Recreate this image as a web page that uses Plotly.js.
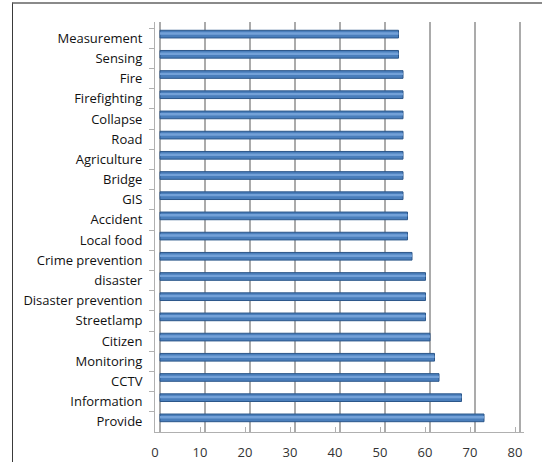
<!DOCTYPE html>
<html>
<head>
<meta charset="utf-8">
<script src="https://cdn.plot.ly/plotly-3.0.1.min.js"></script>
<style>
  html, body { margin: 0; padding: 0; background: #fff; }
  #wrap { position: relative; width: 542px; height: 462px; overflow: hidden; }
  #chart { position: absolute; left: 0; top: 0; width: 542px; height: 462px; }
  #frame { position: absolute; left: 12px; top: 2px; width: 600px; height: 520px;
           border-left: 1px solid #3a3a3a; border-top: 2px solid #8a8a8a;
           pointer-events: none; }
</style>
</head>
<body>
<div id="wrap">
  <div id="chart"></div>
  <div id="frame"></div>
</div>
<script>
// Keywords, listed from top to bottom of the chart
const categories = [
  "Measurement", "Sensing", "Fire", "Firefighting", "Collapse", "Road",
  "Agriculture", "Bridge", "GIS", "Accident", "Local food", "Crime prevention",
  "disaster", "Disaster prevention", "Streetlamp", "Citizen", "Monitoring",
  "CCTV", "Information", "Provide"
];
const counts = [
  53, 53, 54, 54, 54, 54,
  54, 54, 54, 55, 55, 56,
  59, 59, 59, 60, 61,
  62, 67, 72
];
const xTicks = [0, 10, 20, 30, 40, 50, 60, 70, 80];

const barW = 0.38;
const lift = 0.2;   // bars sit slightly above their labels (3D depth)

const body = {
  type: "bar", orientation: "h",
  y: categories, x: counts,
  width: barW, offset: -barW / 2 - lift,
  marker: { color: "#4a7ebb", line: { color: "#2c578a", width: 1 } },
  hoverinfo: "x+y", showlegend: false
};
// light band along each bar for the cylinder sheen
const sheen = {
  type: "bar", orientation: "h",
  y: categories, x: counts,
  width: 0.12, offset: -barW / 2 - lift + 0.1,
  marker: { color: "rgba(120,165,220,0.9)", line: { width: 0 } },
  hoverinfo: "skip", showlegend: false
};

const layout = {
  width: 542, height: 462,
  margin: { l: 155, r: 18, t: 22, b: 30 },
  paper_bgcolor: "#ffffff", plot_bgcolor: "#ffffff",
  barmode: "overlay",
  font: { family: "Open Sans, sans-serif", color: "#111111" },
  xaxis: {
    range: [-1.111, 80.889],
    tickvals: xTicks, showticklabels: false,
    showgrid: true, gridcolor: "#ababab", gridwidth: 2,
    zeroline: false, showline: false, fixedrange: true
  },
  xaxis2: {
    overlaying: "x", anchor: "y", side: "bottom",
    range: [0, 82],
    tickvals: xTicks, ticktext: xTicks.map(String),
    showgrid: false, zeroline: false,
    showline: true, linecolor: "#b0b0b0", linewidth: 1,
    ticks: "inside", ticklen: 5, tickcolor: "#b0b0b0",
    tickfont: { size: 13, color: "#333333" },
    ticklabelstandoff: 8, fixedrange: true
  },
  yaxis: {
    type: "category",
    range: [19.5, -0.8],
    showgrid: false, zeroline: false,
    showline: true, linecolor: "#b0b0b0", linewidth: 1,
    ticks: "outside", ticklen: 5, tickcolor: "#b0b0b0", tickson: "boundaries",
    tickfont: { size: 13, color: "#111111" },
    ticklabelstandoff: 9, fixedrange: true
  }
};

// invisible trace so the label axis is drawn
const labelAxis = {
  type: "scatter", x: [0], y: [categories[0]], xaxis: "x2",
  mode: "markers", marker: { opacity: 0 }, hoverinfo: "skip", showlegend: false
};

Plotly.newPlot("chart", [body, sheen, labelAxis], layout, { displayModeBar: false, staticPlot: true });
</script>
</body>
</html>
